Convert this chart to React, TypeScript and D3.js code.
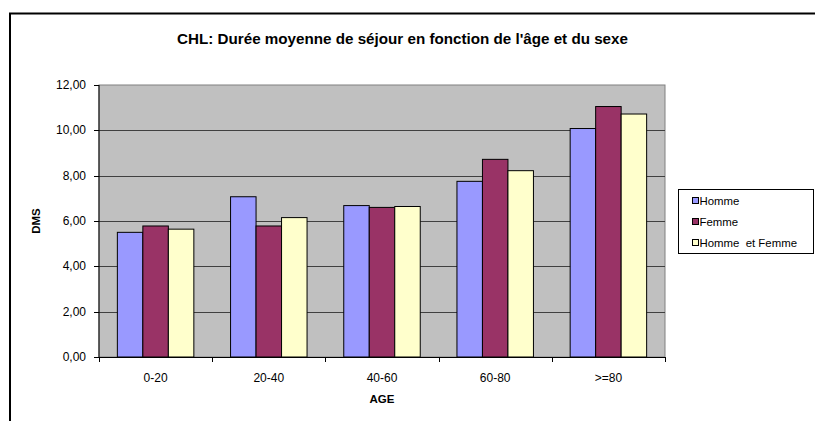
import React from "react";
import * as d3 from "d3";

const categories = ["0-20", "20-40", "40-60", "60-80", ">=80"];
const seriesNames = ["Homme", "Femme", "Homme  et Femme"];
const homme = [5.5, 7.07, 6.68, 7.75, 10.08];
const femme = [5.78, 5.78, 6.6, 8.72, 11.05];
const hommeEtFemme = [5.64, 6.15, 6.64, 8.22, 10.72];
const seriesColors = ["#9999FF", "#993366", "#FFFFCC"];
const yTicks = [0, 2, 4, 6, 8, 10, 12];
const titleText = "CHL: Durée moyenne de séjour en fonction de l'âge et du sexe";

const W = 815;
const H = 421;
const plot = { left: 99, top: 85, right: 665, bottom: 357 };
const font = "'Liberation Sans', Arial, sans-serif";

export default function App() {
  const series = [homme, femme, hommeEtFemme];
  const x = d3
    .scaleBand<string>()
    .domain(categories)
    .range([plot.left, plot.right])
    .paddingInner(0)
    .paddingOuter(0);
  const y = d3.scaleLinear().domain([0, 12]).range([plot.bottom, plot.top]);
  const inner = d3
    .scaleBand<number>()
    .domain([0, 1, 2])
    .range([0, x.bandwidth()])
    .paddingInner(0)
    .paddingOuter(0.72);
  const fmt = (v: number) => d3.format(".2f")(v).replace(".", ",");

  return (
    <svg
      width={W}
      height={H}
      style={{ position: "absolute", left: 0, top: 0, display: "block" }}
      fontFamily={font}
    >
      <rect x={0} y={0} width={W} height={H} fill="#fff" />
      <path d={`M10,${H + 5} V13.5 H${W + 5}`} fill="none" stroke="#000" strokeWidth={2} />
      <text x={402.5} y={44} textAnchor="middle" fontSize={15.2} fontWeight="bold">
        {titleText}
      </text>
      <rect
        x={plot.left}
        y={plot.top}
        width={plot.right - plot.left}
        height={plot.bottom - plot.top}
        fill="#C0C0C0"
        stroke="#808080"
        strokeWidth={1}
      />
      {yTicks.slice(1, -1).map((t) => (
        <line
          key={"g" + t}
          x1={plot.left}
          x2={plot.right}
          y1={Math.round(y(t)) + 0.5}
          y2={Math.round(y(t)) + 0.5}
          stroke="#404040"
          strokeWidth={1}
        />
      ))}
      {categories.map((c, i) =>
        series.map((s, j) => (
          <rect
            key={c + j}
            x={(x(c) as number) + (inner(j) as number)}
            y={y(s[i])}
            width={inner.bandwidth()}
            height={plot.bottom - y(s[i])}
            fill={seriesColors[j]}
            stroke="#000"
            strokeWidth={1}
          />
        ))
      )}
      <line x1={plot.left} x2={plot.left} y1={plot.top} y2={plot.bottom} stroke="#000" />
      <line x1={plot.left} x2={plot.right} y1={plot.bottom + 0.5} y2={plot.bottom + 0.5} stroke="#000" />
      {yTicks.map((t) => (
        <g key={"y" + t}>
          <line x1={plot.left - 5} x2={plot.left} y1={Math.round(y(t)) + 0.5} y2={Math.round(y(t)) + 0.5} stroke="#000" />
          <text x={86} y={y(t) + 4} textAnchor="end" fontSize={12}>
            {fmt(t)}
          </text>
        </g>
      ))}
      {[...categories.map((c) => x(c) as number), plot.right].map((v, i) => (
        <line key={"xt" + i} x1={Math.round(v) + 0.5} x2={Math.round(v) + 0.5} y1={plot.bottom} y2={plot.bottom + 5} stroke="#000" />
      ))}
      {categories.map((c) => (
        <text key={"xl" + c} x={(x(c) as number) + x.bandwidth() / 2} y={382} textAnchor="middle" fontSize={12}>
          {c}
        </text>
      ))}
      <text x={(plot.left + plot.right) / 2} y={403} textAnchor="middle" fontSize={11.5} fontWeight="bold">
        AGE
      </text>
      <text
        transform={`translate(40, ${(plot.top + plot.bottom) / 2}) rotate(-90)`}
        textAnchor="middle"
        fontSize={11.5}
        fontWeight="bold"
      >
        DMS
      </text>
      <rect x={678.5} y={189.5} width={135} height={64} fill="#fff" stroke="#000" strokeWidth={1} />
      {seriesNames.map((n, j) => (
        <g key={"lg" + n}>
          <rect x={692.5} y={197.5 + j * 21} width={6} height={6} fill={seriesColors[j]} stroke="#000" strokeWidth={1} />
          <text x={699.5} y={205 + j * 21} fontSize={11.4} style={{ whiteSpace: "pre" }}>
            {n}
          </text>
        </g>
      ))}
    </svg>
  );
}
